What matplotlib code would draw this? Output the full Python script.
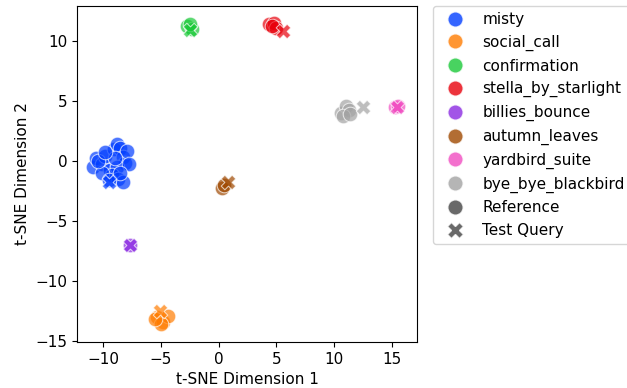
import matplotlib
matplotlib.use("Agg")
import matplotlib.pyplot as plt
from matplotlib.lines import Line2D

plt.rcParams["font.size"] = 11

songs = ["misty", "social_call", "confirmation", "stella_by_starlight",
         "billies_bounce", "autumn_leaves", "yardbird_suite", "bye_bye_blackbird"]
colors = ["#023eff", "#ff7c00", "#1ac938", "#e8000b",
          "#8b2be2", "#9f4800", "#f14cc1", "#a3a3a3"]

ref_x = {
    "misty": [-10.9, -10.6, -10.1, -9.8, -9.4, -9.1, -8.8, -8.5, -8.3, -8.1, -7.9,
              -8.8, -9.2, -8.7, -8.3, -10.1, -10.4, -9.0, -7.8, -9.5, -9.8, -8.5],
    "social_call": [-5.3, -4.8, -4.4, -5.0, -5.5],
    "confirmation": [-2.7, -2.3, -2.5],
    "stella_by_starlight": [4.4, 4.8, 5.0, 4.6],
    "billies_bounce": [-7.7],
    "autumn_leaves": [0.3, 0.5],
    "yardbird_suite": [15.3, 15.5],
    "bye_bye_blackbird": [10.6, 11.0, 11.3, 10.8, 11.4],
}
ref_y = {
    "misty": [-0.5, 0.2, -0.3, 0.4, -0.8, 1.0, 1.4, 1.1, 0.3, -0.2, 0.8,
              -0.5, -1.2, -1.5, -1.8, -1.0, 0.0, 0.2, -0.3, -1.6, 0.7, -1.0],
    "social_call": [-13.0, -13.4, -12.9, -13.6, -13.2],
    "confirmation": [11.2, 11.0, 11.4],
    "stella_by_starlight": [11.4, 11.5, 11.1, 11.2],
    "billies_bounce": [-7.0],
    "autumn_leaves": [-2.3, -2.0],
    "yardbird_suite": [4.5, 4.6],
    "bye_bye_blackbird": [4.0, 4.6, 4.2, 3.7, 3.9],
}
test_x = [-9.5, -5.1, -2.5, 5.6, -7.7, 0.8, 15.4, 12.5]
test_y = [-1.8, -12.5, 10.9, 10.8, -7.0, -1.8, 4.5, 4.5]

fig = plt.figure(figsize=(6.27, 3.88), dpi=100)
ax = fig.add_axes([77/627, 46/388, (417-77)/627, (342-6)/388])

for song, c in zip(songs, colors):
    ax.scatter(ref_x[song], ref_y[song], s=110, c=c, alpha=0.7,
               edgecolors="white", linewidths=0.75, marker="o", zorder=2)
for i, (song, c) in enumerate(zip(songs, colors)):
    ax.scatter([test_x[i]], [test_y[i]], s=110, c=c, alpha=0.7,
               edgecolors="white", linewidths=0.75, marker="X", zorder=3)

ax.set_xlim(-12.26, 17.17)
ax.set_ylim(-15.1, 12.9)
ax.set_xticks([-10, -5, 0, 5, 10, 15])
ax.set_yticks([-15, -10, -5, 0, 5, 10])
ax.set_xlabel("t-SNE Dimension 1")
ax.set_ylabel("t-SNE Dimension 2")

handles = [Line2D([], [], marker="o", linestyle="", markersize=11,
                  markerfacecolor=c, markeredgecolor="white", alpha=0.8)
           for c in colors]
handles.append(Line2D([], [], marker="o", linestyle="", markersize=11,
                      markerfacecolor="#444444", markeredgecolor="white", alpha=0.8))
handles.append(Line2D([], [], marker="X", linestyle="", markersize=11,
                      markerfacecolor="#444444", markeredgecolor="white", alpha=0.8))
labels = songs + ["Reference", "Test Query"]
ax.legend(handles, labels, loc="upper left", bbox_to_anchor=(1.048, 1.0),
          borderaxespad=0.0, labelspacing=0.5, frameon=True)

fig.savefig("out.png", dpi=100)
